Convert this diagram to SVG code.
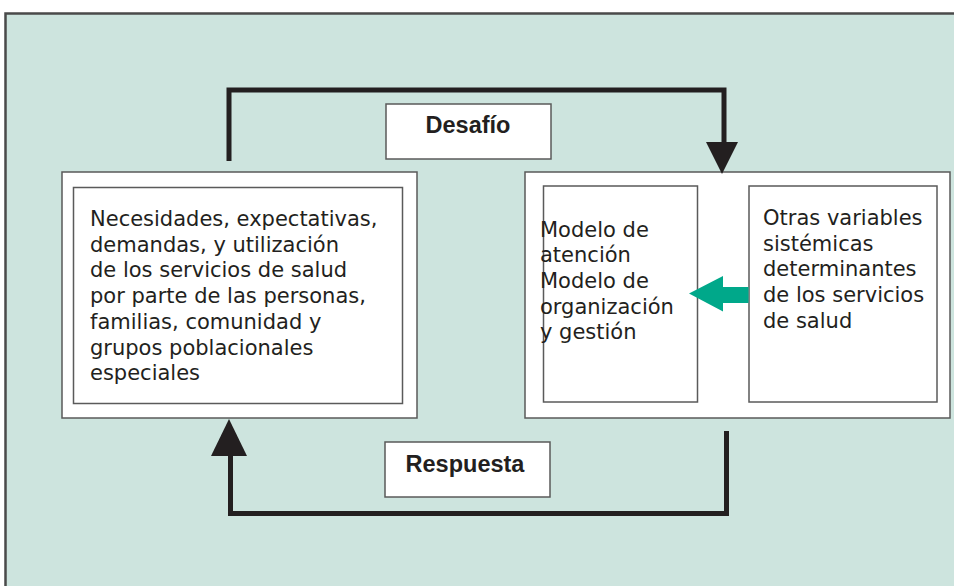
<svg xmlns="http://www.w3.org/2000/svg" width="954" height="586" viewBox="0 0 954 586">
<defs>
<style>
.box{fill:#ffffff;stroke:#5a5a5a;stroke-width:1.5}
.body{font-family:"DejaVu Sans",Verdana,sans-serif;font-size:21px;fill:#231f20}
.lbl{font-family:"Liberation Sans",Arial,sans-serif;font-size:23.5px;font-weight:bold;fill:#231f20;text-anchor:middle}
.conn{fill:none;stroke:#231f20;stroke-width:5;stroke-linejoin:miter}
</style>
</defs>
<rect x="5.5" y="13.5" width="960" height="590" fill="#cde4de" stroke="#4a4a4a" stroke-width="2.5"/>
<g id="desafio">
<rect class="box" x="386" y="104" width="165" height="55"/>
<text class="lbl" x="468" y="133">Desafío</text>
</g>
<g id="respuesta">
<rect class="box" x="385" y="442" width="165" height="55"/>
<text class="lbl" x="465" y="472">Respuesta</text>
</g>
<g id="necesidades">
<rect class="box" x="62" y="172" width="355" height="246"/>
<rect class="box" x="73.5" y="187.5" width="329" height="216"/>
<text class="body">
<tspan x="90" y="226">Necesidades, expectativas,</tspan>
<tspan x="90" y="251.7">demandas, y utilización</tspan>
<tspan x="90" y="277.4">de los servicios de salud</tspan>
<tspan x="90" y="303.1">por parte de las personas,</tspan>
<tspan x="90" y="328.8">familias, comunidad y</tspan>
<tspan x="90" y="354.5">grupos poblacionales</tspan>
<tspan x="90" y="380.2">especiales</tspan>
</text>
</g>
<g id="sistema">
<rect class="box" x="525" y="172" width="425" height="246"/>
</g>
<g id="modelo">
<rect class="box" x="543.5" y="186" width="154" height="216"/>
<text class="body">
<tspan x="540" y="236.5">Modelo de</tspan>
<tspan x="540" y="262.2">atención</tspan>
<tspan x="540" y="287.9">Modelo de</tspan>
<tspan x="540" y="313.6">organización</tspan>
<tspan x="540" y="339.3">y gestión</tspan>
</text>
</g>
<g id="otras">
<rect class="box" x="749" y="186" width="188" height="216"/>
<text class="body">
<tspan x="763" y="225">Otras variables</tspan>
<tspan x="763" y="250.7">sistémicas</tspan>
<tspan x="763" y="276.4">determinantes</tspan>
<tspan x="763" y="302.1">de los servicios</tspan>
<tspan x="763" y="327.8">de salud</tspan>
</text>
</g>
<g id="connectors">
<path class="conn" d="M229 161 V90 H724 V145"/>
<polygon points="706,142 738,142 722,174" fill="#231f20"/>
<path class="conn" d="M726.5 431 V513.5 H230.5 V452"/>
<polygon points="211,456 247,456 229,419" fill="#231f20"/>
<polygon points="748.5,287 723,287 723,276 689,293.5 723,311.5 723,303 748.5,303" fill="#00a88a"/>
</g>
</svg>
